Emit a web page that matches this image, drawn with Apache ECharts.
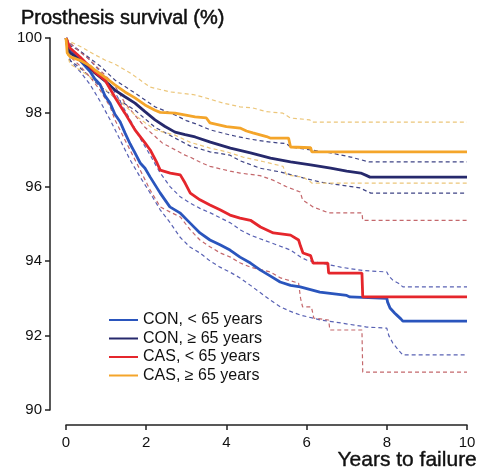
<!DOCTYPE html>
<html>
<head>
<meta charset="utf-8">
<script src="https://cdn.jsdelivr.net/npm/echarts@6/dist/echarts.min.js"></script>
<style>html,body{margin:0;padding:0;background:#fff}#c{width:480px;height:474px}</style>
</head>
<body>
<div id="c"></div>
<script>
// ---- data: [years, survival %] ----
const seriesNames = ['CON, < 65 years', 'CON, \u2265 65 years', 'CAS, < 65 years', 'CAS, \u2265 65 years'];
const xTicks = [0, 2, 4, 6, 8, 10];
const yTicks = [90, 92, 94, 96, 98, 100];

const conUnder65 = [[0,100],[0.1,99.7],[0.35,99.4],[0.6,99.1],[0.72,98.9],[0.85,98.75],[0.97,98.45],[1.1,98.25],[1.22,97.95],[1.35,97.75],[1.47,97.45],[1.6,97.15],[1.72,96.91],[1.85,96.64],[1.97,96.5],[2.1,96.26],[2.35,95.83],[2.59,95.46],[2.84,95.3],[3.09,95.03],[3.34,94.76],[3.59,94.57],[3.84,94.44],[4.09,94.3],[4.34,94.11],[4.6,93.95],[4.85,93.76],[5.1,93.6],[5.34,93.44],[5.6,93.35],[5.84,93.31],[6.33,93.17],[7.0,93.08],[7.08,93.04],[8.0,93.0],[8.02,92.9],[8.08,92.74],[8.2,92.6],[8.25,92.55],[8.35,92.45],[8.4,92.39],[10,92.39]];
const conUnder65Upper = [[0,100],[0.1,99.85],[0.35,99.65],[0.6,99.4],[0.85,99.1],[1.1,98.75],[1.35,98.3],[1.6,97.8],[1.85,97.3],[2.1,96.85],[2.35,96.37],[2.6,96.0],[2.85,95.73],[3.1,95.56],[3.34,95.42],[3.6,95.3],[4.1,95.03],[4.35,94.84],[4.6,94.7],[5.1,94.5],[5.6,94.3],[5.85,94.11],[6.0,94.03],[6.35,93.95],[6.85,93.84],[7.4,93.75],[8.0,93.71],[8.05,93.6],[8.15,93.49],[8.3,93.4],[8.4,93.31],[10,93.31]];
const conUnder65Lower = [[0,100],[0.1,99.4],[0.35,99.1],[0.6,98.75],[0.85,98.3],[1.1,97.8],[1.35,97.26],[1.6,96.72],[1.85,96.26],[2.1,95.83],[2.35,95.38],[2.6,95.03],[2.84,94.65],[3.09,94.38],[3.34,94.22],[3.6,94.0],[3.84,93.84],[4.1,93.7],[4.34,93.55],[4.6,93.35],[4.85,93.15],[5.1,92.95],[5.35,92.77],[5.6,92.65],[5.85,92.55],[6.35,92.42],[6.85,92.34],[7.5,92.23],[8.0,92.2],[8.05,92.0],[8.15,91.8],[8.3,91.6],[8.4,91.48],[10,91.48]];

const conOver65 = [[0,100],[0.05,99.7],[0.1,99.6],[0.35,99.41],[0.6,99.2],[0.72,99.06],[0.97,98.85],[1.22,98.6],[1.47,98.42],[1.72,98.25],[1.97,98.02],[2.22,97.8],[2.47,97.62],[2.72,97.47],[2.97,97.4],[3.22,97.34],[3.6,97.2],[4.1,97.04],[4.6,96.91],[5.1,96.77],[5.6,96.67],[6.1,96.59],[6.6,96.5],[7.0,96.42],[7.35,96.37],[7.5,96.3],[7.58,96.26],[10,96.26]];
const conOver65Upper = [[0,100],[0.1,99.8],[0.35,99.65],[0.6,99.45],[0.85,99.25],[1.22,98.87],[1.72,98.52],[2.22,98.15],[2.72,97.93],[3.0,97.78],[3.22,97.7],[3.6,97.53],[4.1,97.39],[4.6,97.28],[5.1,97.2],[5.5,97.16],[5.6,97.07],[6.1,96.99],[6.6,96.91],[7.1,96.8],[7.55,96.67],[10,96.67]];
const conOver65Lower = [[0,100],[0.1,99.4],[0.35,99.2],[0.6,98.95],[0.85,98.7],[1.22,98.4],[1.72,98.06],[2.22,97.6],[2.72,97.31],[3.09,97.1],[3.59,96.94],[4.09,96.85],[4.34,96.7],[4.84,96.5],[5.34,96.4],[5.84,96.26],[6.33,96.13],[6.83,96.05],[7.33,95.97],[7.6,95.83],[10,95.83]];

const casUnder65 = [[0,100],[0.1,99.73],[0.35,99.49],[0.6,99.22],[0.75,99.06],[0.97,98.87],[1.22,98.41],[1.47,97.98],[1.72,97.53],[1.97,97.18],[2.1,96.99],[2.27,96.64],[2.35,96.45],[2.6,96.37],[2.85,96.32],[2.97,96.1],[3.1,95.83],[3.34,95.65],[3.59,95.51],[3.84,95.38],[4.09,95.24],[4.34,95.16],[4.6,95.1],[4.85,94.92],[5.17,94.76],[5.6,94.7],[5.8,94.57],[5.85,94.4],[5.91,94.22],[6.1,94.15],[6.16,93.95],[6.53,93.95],[6.55,93.68],[7.38,93.68],[7.4,93.04],[10,93.04]];
const casUnder65Upper = [[0,100],[0.1,99.87],[0.35,99.62],[0.6,99.41],[0.92,99.06],[1.2,98.75],[1.47,98.25],[1.97,97.6],[2.4,97.18],[2.97,96.85],[3.09,96.8],[3.39,96.64],[3.59,96.55],[4.09,96.42],[4.34,96.37],[4.84,96.3],[5.16,96.18],[5.5,96.0],[5.84,95.86],[5.9,95.65],[6.16,95.46],[6.55,95.3],[7.38,95.3],[7.4,95.1],[10,95.1]];
const casUnder65Lower = [[0,100],[0.1,99.5],[0.35,99.25],[0.6,98.95],[0.85,98.6],[1.1,98.15],[1.22,97.8],[1.47,97.26],[1.85,96.45],[2.1,95.91],[2.35,95.46],[2.6,95.32],[2.85,95.19],[3.1,94.84],[3.34,94.57],[3.6,94.38],[3.85,94.22],[4.1,94.11],[4.35,93.95],[4.6,93.84],[5.1,93.71],[5.35,93.55],[5.8,93.41],[5.85,93.0],[5.9,92.77],[6.12,92.77],[6.18,92.47],[6.55,92.42],[6.58,92.15],[7.38,92.15],[7.4,91.02],[10,91.02]];

const casOver65 = [[0,100],[0.03,99.6],[0.1,99.5],[0.35,99.4],[0.6,99.25],[0.72,99.14],[0.97,98.95],[1.22,98.74],[1.47,98.55],[1.72,98.39],[1.97,98.2],[2.22,98.06],[2.35,98.0],[2.72,97.98],[3.22,97.88],[3.5,97.85],[3.59,97.72],[4.0,97.62],[4.34,97.58],[4.5,97.5],[4.66,97.45],[5.0,97.35],[5.09,97.31],[5.55,97.31],[5.6,97.07],[6.1,97.05],[6.13,96.94],[10,96.94]];
const casOver65Upper = [[0,100],[0.1,99.9],[0.4,99.75],[0.72,99.55],[0.97,99.41],[1.22,99.3],[1.6,99.06],[1.85,98.87],[2.1,98.68],[2.6,98.55],[3.17,98.48],[3.42,98.41],[3.92,98.25],[4.34,98.15],[4.66,98.12],[5.0,98.02],[5.41,97.98],[5.59,97.85],[6.08,97.8],[6.13,97.74],[10,97.74]];
const casOver65Lower = [[0,100],[0.05,99.5],[0.1,99.3],[0.35,99.14],[0.6,98.95],[0.85,98.75],[1.1,98.5],[1.35,98.3],[1.6,98.05],[1.72,97.93],[2.0,97.7],[2.22,97.53],[2.72,97.39],[3.09,97.2],[3.59,97.04],[4.01,96.94],[4.41,96.8],[4.91,96.68],[5.41,96.55],[5.5,96.32],[5.91,96.26],[6.08,96.15],[6.13,96.1],[10,96.1]];

// ---- styles ----
const solidColors = ['#2a55bd', '#26296c', '#e5262c', '#f4a52a'];
const dashColors = ['#5962b4', '#3f4485', '#c4686c', '#ecc67a'];
const FONT = 'Liberation Sans, Arial, Helvetica, sans-serif';
const INK = '#111';

function dashed(name, data, color) {
  return { name: name, type: 'line', data: data, symbol: 'none', silent: true,
    lineStyle: { color: color, width: 1.2, type: [4, 3] }, z: 2 };
}
function solid(name, data, color) {
  return { name: name, type: 'line', data: data, symbol: 'none', silent: true,
    color: color, lineStyle: { color: color, width: 2.8 }, z: 3 };
}

const chart = echarts.init(document.getElementById('c'), null, { renderer: 'canvas' });
chart.setOption({
  animation: false,
  backgroundColor: '#fff',
  textStyle: { fontFamily: FONT },
  title: { text: 'Prosthesis survival (%)', left: 16, top: 3,
    textStyle: { fontFamily: FONT, fontSize: 20, fontWeight: 'normal', color: INK,
      textBorderColor: INK, textBorderWidth: 0.5 } },
  graphic: [{ type: 'text', right: 3, top: 450,
    style: { text: 'Years to failure', fontFamily: FONT, fontSize: 21, fill: INK,
      stroke: INK, lineWidth: 0.4 } }],
  legend: {
    data: seriesNames, orient: 'vertical', left: 104, top: 307,
    icon: 'rect', itemWidth: 29, itemHeight: 2, itemGap: 2.5,
    textStyle: { fontFamily: FONT, fontSize: 16, color: INK }
  },
  grid: { left: 66, right: 13, top: 38, bottom: 64 },
  xAxis: {
    type: 'value', min: 0, max: 10, interval: 2, offset: 15,
    axisLine: { show: true, onZero: false, lineStyle: { color: '#222', width: 1.5 } },
    axisTick: { show: true, length: 5, lineStyle: { color: '#222', width: 1.5 } },
    axisLabel: { fontSize: 15, color: INK, margin: 10, fontFamily: FONT,
      formatter: v => xTicks.includes(v) ? String(v) : '' },
    splitLine: { show: false }
  },
  yAxis: {
    type: 'value', min: 90, max: 100, interval: 2, offset: 16,
    axisLine: { show: true, onZero: false, lineStyle: { color: '#222', width: 1.5 } },
    axisTick: { show: true, length: 5, lineStyle: { color: '#222', width: 1.5 } },
    axisLabel: { fontSize: 15, color: INK, margin: 8, fontFamily: FONT,
      formatter: v => yTicks.includes(v) ? String(v) : '' },
    splitLine: { show: false }
  },
  series: [
    dashed('conU_lo', conUnder65Lower, dashColors[0]),
    dashed('conU_hi', conUnder65Upper, dashColors[0]),
    dashed('conO_lo', conOver65Lower, dashColors[1]),
    dashed('conO_hi', conOver65Upper, dashColors[1]),
    dashed('casU_lo', casUnder65Lower, dashColors[2]),
    dashed('casU_hi', casUnder65Upper, dashColors[2]),
    dashed('casO_lo', casOver65Lower, dashColors[3]),
    dashed('casO_hi', casOver65Upper, dashColors[3]),
    solid(seriesNames[0], conUnder65, solidColors[0]),
    solid(seriesNames[1], conOver65, solidColors[1]),
    solid(seriesNames[2], casUnder65, solidColors[2]),
    solid(seriesNames[3], casOver65, solidColors[3])
  ]
});
</script>
</body>
</html>
